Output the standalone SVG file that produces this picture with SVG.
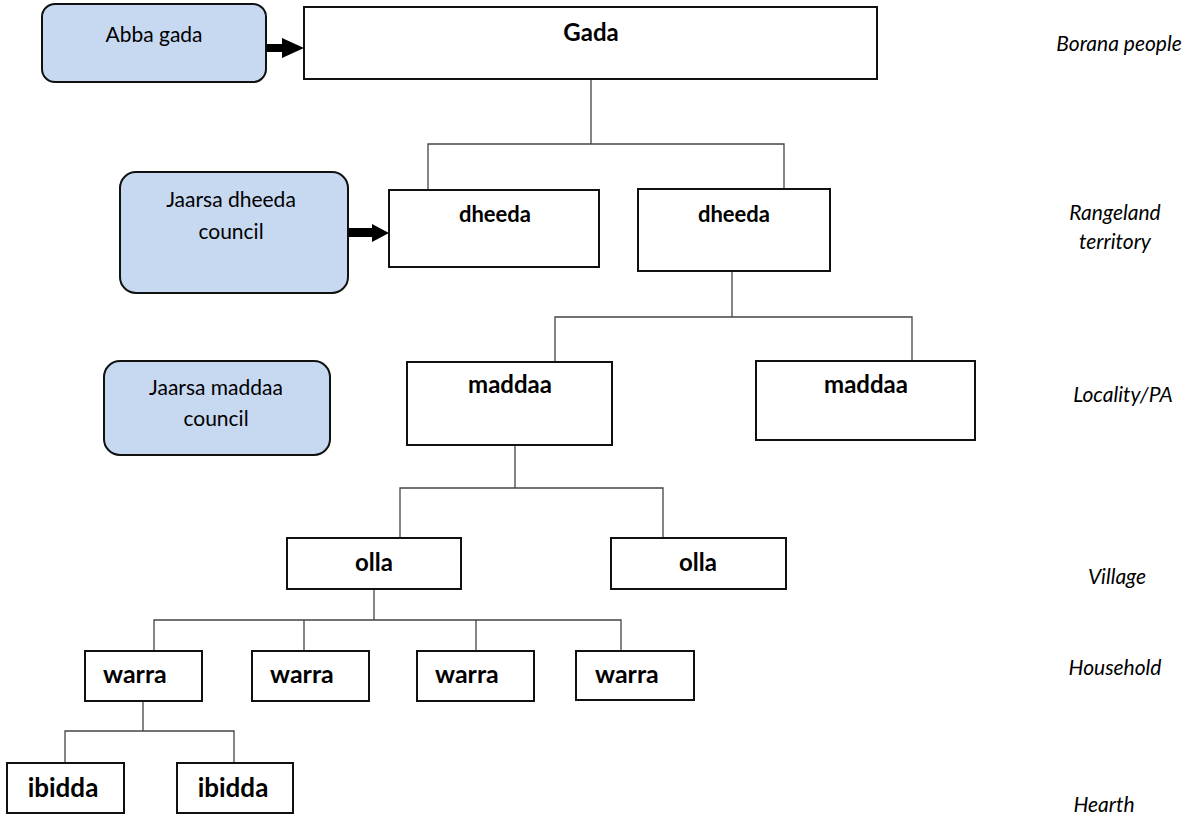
<svg xmlns="http://www.w3.org/2000/svg" width="1189" height="820" viewBox="0 0 1189 820">
<style>
.box{fill:#fff;stroke:#111;stroke-width:2}
.council{fill:#c6d9f0;stroke:#111;stroke-width:2}
.lbl{font-family:Lato,"Liberation Sans",sans-serif;font-weight:bold;fill:#000}
.reg{font-family:Lato,"Liberation Sans",sans-serif;font-size:21px;fill:#000;text-anchor:middle}
.side{font-family:Lato,"Liberation Sans",sans-serif;font-style:italic;font-size:21px;fill:#000;text-anchor:middle}
.conn{fill:none;stroke:#444;stroke-width:1.3}
.arr{fill:#000}
</style>
<rect width="1189" height="820" fill="#fff"/>
<g id="connectors">
<path class="conn" d="M591 79V144M428 190V144H784V189"/>
<path class="conn" d="M732 271V317M555 362V317H912V361"/>
<path class="conn" d="M515 445V488M400 538V488H663V538"/>
<path class="conn" d="M374 589V620M154 651V620H621V651M304 620V651M476 620V651"/>
<path class="conn" d="M143 701V731M65 763V731H234V763"/>
<path class="arr" d="M266 44H282V38L304 48L282 58V52H266Z"/>
<path class="arr" d="M348 228H372V224L389 233L372 242V237H348Z"/>
</g>
<g id="abba-gada"><rect class="council" x="42" y="4" width="224" height="78" rx="13"/><text class="reg" x="154" y="42">Abba gada</text></g>
<g id="gada"><rect class="box" x="304" y="7" width="573" height="72"/><text class="lbl" x="591" y="41" font-size="24" text-anchor="middle">Gada</text></g>
<g id="jaarsa-dheeda"><rect class="council" x="120" y="172" width="228" height="121" rx="16"/><text class="reg" x="231" y="207" font-size="22">Jaarsa dheeda</text><text class="reg" x="231" y="239" font-size="22">council</text></g>
<g id="dheeda-1"><rect class="box" x="389" y="190" width="210" height="77"/><text class="lbl" x="495" y="222" font-size="22" text-anchor="middle">dheeda</text></g>
<g id="dheeda-2"><rect class="box" x="638" y="189" width="192" height="82"/><text class="lbl" x="734" y="222" font-size="22" text-anchor="middle">dheeda</text></g>
<g id="jaarsa-maddaa"><rect class="council" x="104" y="361" width="226" height="94" rx="16"/><text class="reg" x="216" y="395" font-size="22">Jaarsa maddaa</text><text class="reg" x="216" y="426" font-size="22">council</text></g>
<g id="maddaa-1"><rect class="box" x="407" y="362" width="205" height="83"/><text class="lbl" x="510" y="393" font-size="24" text-anchor="middle">maddaa</text></g>
<g id="maddaa-2"><rect class="box" x="756" y="361" width="219" height="79"/><text class="lbl" x="866" y="393" font-size="24" text-anchor="middle">maddaa</text></g>
<g id="olla-1"><rect class="box" x="287" y="538" width="174" height="51"/><text class="lbl" x="374" y="571" font-size="24" text-anchor="middle">olla</text></g>
<g id="olla-2"><rect class="box" x="611" y="538" width="175" height="51"/><text class="lbl" x="698" y="571" font-size="24" text-anchor="middle">olla</text></g>
<g id="warra-1"><rect class="box" x="85" y="651" width="117" height="50"/><text class="lbl" x="103" y="683" font-size="25">warra</text></g>
<g id="warra-2"><rect class="box" x="252" y="651" width="117" height="50"/><text class="lbl" x="270" y="683" font-size="25">warra</text></g>
<g id="warra-3"><rect class="box" x="417" y="651" width="117" height="50"/><text class="lbl" x="435" y="683" font-size="25">warra</text></g>
<g id="warra-4"><rect class="box" x="576" y="651" width="118" height="49"/><text class="lbl" x="595" y="683" font-size="25">warra</text></g>
<g id="ibidda-1"><rect class="box" x="7" y="763" width="117" height="50"/><text class="lbl" x="63" y="797" font-size="26" text-anchor="middle">ibidda</text></g>
<g id="ibidda-2"><rect class="box" x="177" y="763" width="116" height="50"/><text class="lbl" x="233" y="797" font-size="26" text-anchor="middle">ibidda</text></g>
<g id="levels">
<text class="side" x="1119" y="51">Borana people</text>
<text class="side" x="1115" y="220">Rangeland</text>
<text class="side" x="1115" y="249">territory</text>
<text class="side" x="1123" y="402">Locality/PA</text>
<text class="side" x="1117" y="584">Village</text>
<text class="side" x="1115" y="675">Household</text>
<text class="side" x="1104" y="812">Hearth</text>
</g>
</svg>
